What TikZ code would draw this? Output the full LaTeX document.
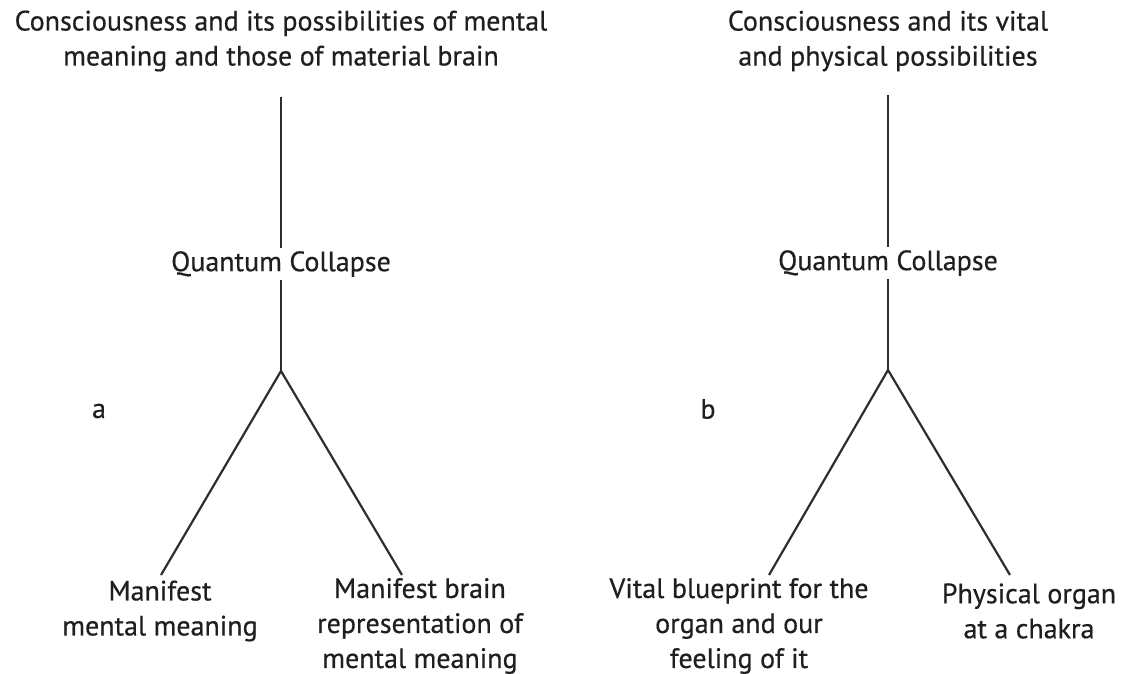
\documentclass[tikz,border=0pt]{standalone}
\usepackage{fontspec}
\newfontfamily\lblfont{PT Sans}[FakeBold=0.5]
\begin{document}
\begin{tikzpicture}[x=1pt,y=-1pt,
  txt/.style={align=center,font=\lblfont\fontsize{28}{35}\selectfont,text=black!88,inner sep=0pt},
  stem/.style={draw=black!82,line width=2.2pt}]
\useasboundingbox[fill=white] (0,0) rectangle (1130,674);

% left tree
\node[txt] (ta) at (281,41) {Consciousness and its possibilities of mental\\meaning and those of material brain};
\coordinate (ta-top) at (281,97);
\node[txt,fill=white,inner sep=3pt] (qa) at (281,264) {Quantum Collapse};
\coordinate (ja) at (281,371);
\coordinate (la) at (161,575);
\coordinate (ra) at (402,575);
\node[txt] (ma) at (160,611) {Manifest\\mental meaning};
\node[txt] (mb) at (420,626) {Manifest brain\\representation of\\mental meaning};
\node[txt] (lbla) at (99,411) {a};
\draw[stem] (ta-top) -- (qa.north);
\draw[stem] (qa.south) -- (ja);
\draw[stem,line join=miter] (la) -- (ja) -- (ra);

% right tree
\node[txt] (tb) at (888,41) {Consciousness and its vital\\and physical possibilities};
\coordinate (tb-top) at (888,95);
\node[txt,fill=white,inner sep=3pt] (qb) at (888,263) {Quantum Collapse};
\coordinate (jb) at (888,370);
\coordinate (lb) at (769,575);
\coordinate (rb) at (1010,575);
\node[txt] (vb) at (739,626) {Vital blueprint for the\\organ and our\\feeling of it};
\node[txt] (pb) at (1029,611) {Physical organ\\at a chakra};
\node[txt] (lblb) at (708,409) {b};
\draw[stem] (tb-top) -- (qb.north);
\draw[stem] (qb.south) -- (jb);
\draw[stem,line join=miter] (lb) -- (jb) -- (rb);
\end{tikzpicture}
\end{document}
